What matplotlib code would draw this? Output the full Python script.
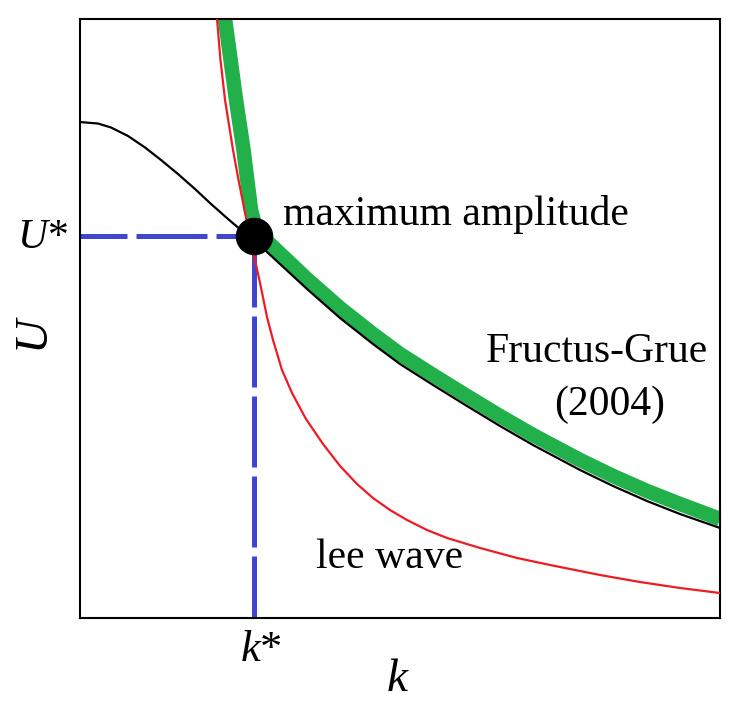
import matplotlib
matplotlib.use("Agg")
import matplotlib.pyplot as plt

plt.rcParams['font.family'] = ['Liberation Serif', 'DejaVu Serif']
plt.rcParams['mathtext.fontset'] = 'custom'
plt.rcParams['mathtext.it'] = 'Liberation Serif:italic'
plt.rcParams['mathtext.rm'] = 'Liberation Serif'

# curves (k, U in arbitrary units, axes 0..10)
k_black = [0, 0.281, 0.484, 0.750, 1.016, 1.266, 1.531, 1.797, 2.047, 2.313,
           2.469, 2.719, 2.922, 3.547, 4.063, 4.578, 5.0, 5.516, 6.047, 6.563,
           7.078, 7.813, 8.328, 8.859, 9.375, 10]
U_black = [8.280, 8.255, 8.189, 8.047, 7.855, 7.646, 7.412, 7.162, 6.912, 6.661,
           6.519, 6.294, 6.110, 5.493, 5.008, 4.574, 4.240, 3.890, 3.539, 3.205,
           2.888, 2.471, 2.204, 1.953, 1.736, 1.503]

k_green = [2.234, 2.266, 2.438, 2.555, 2.672, 2.734, 2.781, 2.844, 2.969, 3.547,
           4.063, 4.578, 5.0, 5.516, 6.047, 6.563, 7.078, 7.813, 8.328, 8.859,
           9.375, 10]
U_green = [10.234, 9.999, 8.648, 7.813, 6.811, 6.561, 6.444, 6.361, 6.244, 5.659,
           5.175, 4.741, 4.407, 4.057, 3.706, 3.372, 3.055, 2.638, 2.371, 2.120,
           1.903, 1.653]

k_red = [2.109, 2.141, 2.195, 2.266, 2.391, 2.477, 2.570, 2.634, 2.711, 2.813,
         2.922, 3.016, 3.156, 3.313, 3.531, 3.797, 4.063, 4.328, 4.578, 4.844,
         5.109, 5.422, 5.734, 6.250, 6.828, 7.344, 8.125, 8.750, 9.375, 10]
U_red = [10.234, 9.999, 9.316, 8.648, 7.813, 7.312, 6.811, 6.477, 6.093, 5.593,
         5.025, 4.641, 4.140, 3.756, 3.322, 2.905, 2.538, 2.237, 2.003, 1.803,
         1.636, 1.469, 1.336, 1.169, 1.002, 0.885, 0.718, 0.601, 0.501, 0.417]

k_star = 2.72
U_star = 6.38

fig = plt.figure(figsize=(7.40, 7.06), dpi=100)
ax = fig.add_axes([80 / 740, 88 / 706, 640 / 740, 599 / 706])

ax.plot(k_black, U_black, color='black', lw=1.6, zorder=3, solid_joinstyle='round')
ax.plot(k_green, U_green, color='#22b04b', lw=10.5, solid_capstyle='butt',
        solid_joinstyle='round', zorder=2)
ax.plot(k_red, U_red, color='#ed1c24', lw=1.6, zorder=4, solid_joinstyle='round')

blue = '#3f48cc'
ax.plot([0, k_star], [U_star, U_star], color=blue, lw=3.6, zorder=1,
        linestyle=(4.8, (14.2, 1.8)))
ax.plot([k_star, k_star], [U_star, 0], color=blue, lw=3.6, zorder=1,
        linestyle=(0, (14.2, 1.8)))

ax.plot([k_star], [U_star], 'o', color='black', markersize=26, zorder=5)

ax.set_xlim(0, 10)
ax.set_ylim(0, 10)
ax.set_xticks([])
ax.set_yticks([])
for s in ax.spines.values():
    s.set_linewidth(1.5)

fs = 30
ax.text(3.17, 6.73, 'maximum amplitude', fontsize=fs, ha='left', va='center')
ax.text(8.08, 4.44, 'Fructus-Grue', fontsize=fs, ha='center', va='center')
ax.text(8.28, 3.56, '(2004)', fontsize=fs, ha='center', va='center')
ax.text(3.69, 1.0, 'lee wave', fontsize=fs, ha='left', va='center')

fig.text(261 / 740, 1 - 650 / 706, r'$k$*', fontsize=32, ha='center', va='center')
fig.text(398 / 740, 1 - 680 / 706, r'$k$', fontsize=34, ha='center', va='center')
fig.text(42 / 740, 1 - 238 / 706, r'$U$*', fontsize=fs, ha='center', va='center')
fig.text(37 / 740, 1 - 335 / 706, r'$U$', fontsize=34, ha='center', va='center',
         rotation=90)

fig.savefig('out.png', dpi=100)
